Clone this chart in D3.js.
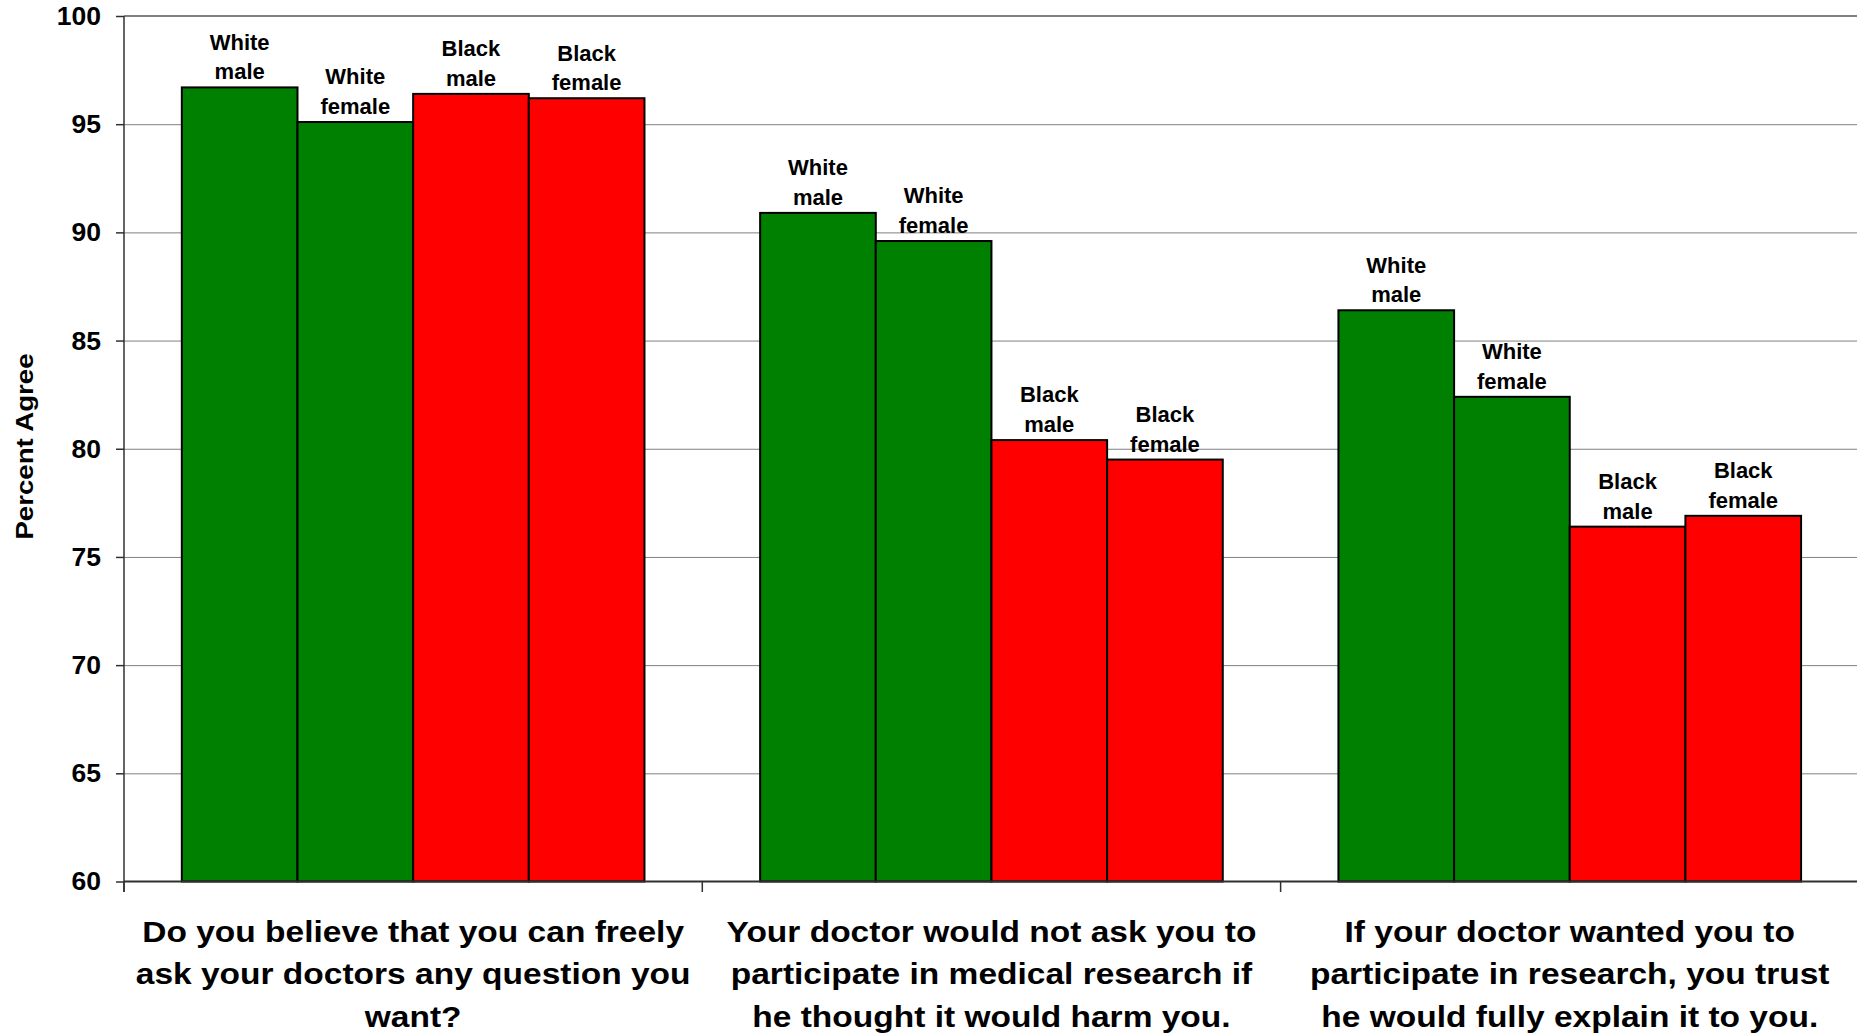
<!DOCTYPE html>
<html>
<head>
<meta charset="utf-8">
<script src="https://cdn.jsdelivr.net/npm/d3@7"></script>
<style>
  html, body { margin: 0; padding: 0; background: #fff; }
  svg { display: block; }
  text { font-family: "Liberation Sans", Arial, sans-serif; font-weight: bold; fill: #000; }
</style>
</head>
<body>
<svg id="chart" width="1857" height="1033"></svg>
<script>
// ---- data ----
const categories = [
  ["Do you believe that you can freely", "ask your doctors any question you", "want?"],
  ["Your doctor would not ask you to", "participate in medical research if", "he thought it would harm you."],
  ["If your doctor wanted you to", "participate in research, you trust", "he would fully explain it to you."]
];
const seriesNames = [["White", "male"], ["White", "female"], ["Black", "male"], ["Black", "female"]];
const whiteMale   = [96.7, 90.9, 86.4];
const whiteFemale = [95.1, 89.6, 82.4];
const blackMale   = [96.4, 80.4, 76.4];
const blackFemale = [96.2, 79.5, 76.9];
const yTicks = [60, 65, 70, 75, 80, 85, 90, 95, 100];
const yTitle = "Percent Agree";

const seriesValues = [whiteMale, whiteFemale, blackMale, blackFemale];
const seriesColors = ["#008000", "#008000", "#FF0000", "#FF0000"];

(function () {
// ---- layout ----
const W = 1857, H = 1033;
const mLeft = 124, mTop = 16, mBottom = 881.5, mRight = 124 + 3 * 578.3;

const svg = d3.select("#chart");

const x0 = d3.scaleBand().domain(d3.range(categories.length)).range([mLeft, mRight]).paddingInner(0).paddingOuter(0);
const x1 = d3.scaleBand().domain(d3.range(seriesNames.length)).range([0, x0.bandwidth()]).paddingInner(0).paddingOuter(0.5);
const y = d3.scaleLinear().domain([60, 100]).range([mBottom, mTop]);

// gridlines
const grid = svg.append("g").attr("transform", `translate(${mLeft},0)`)
  .call(d3.axisLeft(y).tickValues(yTicks.filter(t => t > 60 && t < 100)).tickSize(-(W - mLeft)).tickFormat(""));
grid.select(".domain").remove();
grid.selectAll("line").attr("stroke", "#808080").attr("stroke-width", 1);

// top border
svg.append("line").attr("x1", mLeft).attr("x2", W).attr("y1", y(100)).attr("y2", y(100))
  .attr("stroke", "#808080").attr("stroke-width", 2);

// bars
const flat = [];
categories.forEach((c, ci) => seriesValues.forEach((vals, si) => flat.push({ci, si, v: vals[ci]})));

svg.append("g").selectAll("rect").data(flat).join("rect")
  .attr("x", d => x0(d.ci) + x1(d.si))
  .attr("y", d => y(d.v))
  .attr("width", x1.bandwidth())
  .attr("height", d => y(60) - y(d.v))
  .attr("fill", d => seriesColors[d.si])
  .attr("stroke", "#000")
  .attr("stroke-width", 2);

// bar labels
const cx = d => x0(d.ci) + x1(d.si) + x1.bandwidth() / 2;
const lab = svg.append("g").selectAll("text").data(flat).join("text")
  .attr("text-anchor", "middle")
  .attr("font-size", 22)
  .attr("x", cx)
  .attr("y", d => y(d.v) - 8);
lab.append("tspan").attr("x", cx).attr("dy", -29.7).text(d => seriesNames[d.si][0]);
lab.append("tspan").attr("x", cx).attr("dy", 29.7).text(d => seriesNames[d.si][1]);

// y axis
const yAxis = svg.append("g").attr("transform", `translate(${mLeft},0)`)
  .call(d3.axisLeft(y).tickValues(yTicks).tickSize(8).tickPadding(15).tickFormat(d3.format("d")));
yAxis.select(".domain").remove();
yAxis.selectAll("line").attr("stroke", "#303030").attr("stroke-width", 1.5);
yAxis.selectAll("text").attr("font-size", 26.5).attr("font-family", "Liberation Sans, Arial, sans-serif")
  .attr("font-weight", "bold").attr("fill", "#000");

svg.append("line").attr("x1", mLeft).attr("x2", mLeft).attr("y1", mTop).attr("y2", mBottom + 10.5)
  .attr("stroke", "#303030").attr("stroke-width", 1.5);

// x axis baseline and category ticks
svg.append("line").attr("x1", mLeft).attr("x2", W).attr("y1", mBottom).attr("y2", mBottom)
  .attr("stroke", "#303030").attr("stroke-width", 2);
svg.append("g").selectAll("line").data(d3.range(categories.length + 1)).join("line")
  .attr("x1", i => i < categories.length ? x0(i) : mRight)
  .attr("x2", i => i < categories.length ? x0(i) : mRight)
  .attr("y1", mBottom).attr("y2", mBottom + 10.5)
  .attr("stroke", "#303030").attr("stroke-width", 1.5);

// category labels
const catG = svg.append("g").selectAll("g").data(categories).join("g")
  .attr("transform", (d, i) => `translate(${x0(i) + x0.bandwidth() / 2},941.7) scale(1.117,1)`);
catG.selectAll("text").data(d => d).join("text")
  .attr("text-anchor", "middle")
  .attr("font-size", 30)
  .attr("x", 0)
  .attr("y", (d, i) => i * 42.5)
  .text(d => d);

// y title
svg.append("text")
  .attr("transform", `translate(33,446.5) rotate(-90) scale(1.15,1)`)
  .attr("text-anchor", "middle")
  .attr("font-size", 24)
  .text(yTitle);
})();
</script>
</body>
</html>
